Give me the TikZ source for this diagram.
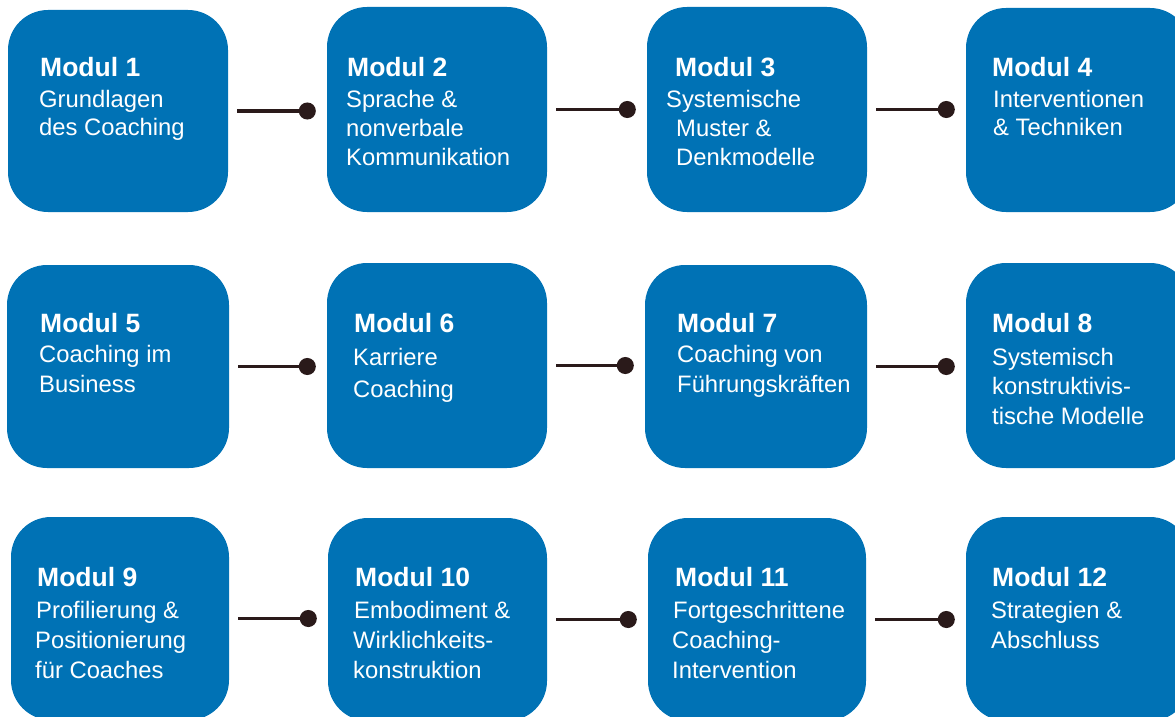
\documentclass[tikz,border=0pt]{standalone}
\usepackage{fontspec}
\setmainfont{Liberation Sans}
\usetikzlibrary{arrows.meta}
\definecolor{modblue}{RGB}{0,114,181}
\definecolor{dotcol}{RGB}{42,26,26}
\tikzset{
  box/.style={draw=none, fill=modblue, rounded corners=40pt, inner sep=0pt},
  ttl/.style={anchor=base west, inner sep=0pt, text=white, font=\fontsize{26.5}{31}\selectfont\bfseries},
  sub/.style={anchor=base west, inner sep=0pt, text=white, font=\fontsize{23.8}{29}\selectfont},
  conn/.style={draw=dotcol, line width=3.5pt, shorten <=9pt, shorten >=11pt, -{Circle[length=17pt]}}
}
\begin{document}
\begin{tikzpicture}[x=1pt,y=-1pt]
\clip (0,0) rectangle (1175,717);
\useasboundingbox (0,0) rectangle (1175,717);
% boxes
\foreach \n/\cx/\cy/\w/\h in {
  b1/118/111/220/202, b2/437/109.5/220/205, b3/757/109.5/220/205, b4/1078/110/224/204,
  b5/118/366.5/222/203, b6/437/365.5/220/205, b7/756/366.5/222/203, b8/1078/365.5/224/205,
  b9/120/618.5/218/203, b10/437.5/619.5/219/203, b11/757/619.5/218/203, b12/1078/619/224/204}
  \node[box, minimum width=\w pt, minimum height=\h pt] (\n) at (\cx,\cy) {};
% connectors
\foreach \a/\b in {b1/b2, b2/b3, b3/b4, b5/b6, b6/b7, b7/b8, b9/b10, b10/b11, b11/b12}
  \draw[conn] (\a.east) -- (\a.east -| \b.west);
% titles
\foreach \n/\x/\y/\t in {
  t1/40/77/Modul 1, t2/347/77/Modul 2, t3/675/77/Modul 3, t4/992/77/Modul 4,
  t5/40/332/Modul 5, t6/354/332/Modul 6, t7/677/332/Modul 7, t8/992/332/Modul 8,
  t9/37/586/Modul 9, t10/355/586/Modul 10, t11/675/586/Modul 11, t12/992/586/Modul 12}
  \node[ttl] (\n) at (\x,\y) {\t};
% body lines
\foreach \n/\x/\y/\t in {
  s1a/39/107/Grundlagen, s1b/39/135/des Coaching,
  s2a/346/107/Sprache \&, s2b/346/136/nonverbale, s2c/346/165/Kommunikation,
  s3a/666/107/Systemische, s3b/676/136/Muster \&, s3c/676/165/Denkmodelle,
  s4a/993/107/Interventionen, s4b/993/135/\& Techniken,
  s5a/39/362/Coaching im, s5b/39/392/Business,
  s6a/353/365/Karriere, s6b/353/397/Coaching,
  s7a/677/362/Coaching von, s7b/677/392/Führungskräften,
  s8a/992/365/Systemisch, s8b/992/394/konstruktivis-, s8c/992/424/tische Modelle,
  s9a/36/618/Profilierung \&, s9b/35/648/Positionierung, s9c/35/678/für Coaches,
  s10a/354/618/Embodiment \&, s10b/353/648/Wirklichkeits-, s10c/353/678/konstruktion,
  s11a/673/618/Fortgeschrittene, s11b/672/648/Coaching-, s11c/672/678/Intervention,
  s12a/991/618/Strategien \&, s12b/991/648/Abschluss}
  \node[sub] (\n) at (\x,\y) {\t};
\end{tikzpicture}
\end{document}
